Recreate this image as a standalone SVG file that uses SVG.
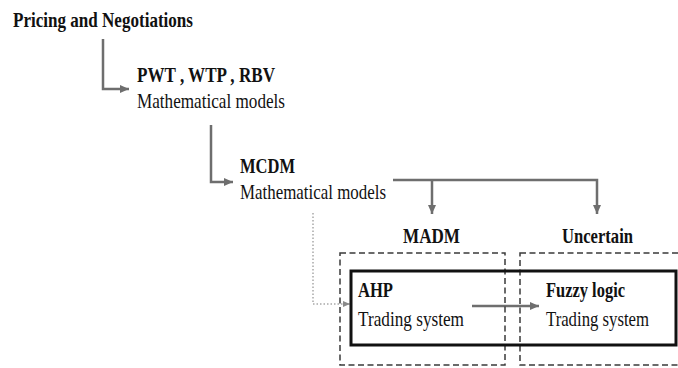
<svg xmlns="http://www.w3.org/2000/svg" width="678" height="368" viewBox="0 0 678 368">
<style>
text{font-family:"Liberation Serif","Times New Roman",serif;fill:#111}
.b{font-weight:bold}
.con{fill:none;stroke:#6e6e6e;stroke-width:2.5}
.dot{fill:none;stroke:#a8a8a8;stroke-width:1.5;stroke-dasharray:1.5 2}
.dash{fill:none;stroke:#3a3a3a;stroke-width:1.5;stroke-dasharray:6 3.5}
</style>
<defs>
<marker id="ah" markerUnits="userSpaceOnUse" markerWidth="10" markerHeight="10" refX="9" refY="5" orient="auto">
<path d="M0,1 L9,5 L0,9 Z" fill="#6e6e6e"/>
</marker>
<marker id="ahs" markerUnits="userSpaceOnUse" markerWidth="8" markerHeight="8" refX="7" refY="4" orient="auto">
<path d="M0,1 L7,4 L0,7 Z" fill="#8a8a8a"/>
</marker>
</defs>
<rect width="678" height="368" fill="#fff"/>
<g id="connectors">
<path class="con" d="M103,39 V89 H129" marker-end="url(#ah)"/>
<path class="con" d="M211,125 V182 H233" marker-end="url(#ah)"/>
<path class="con" d="M393,180 H597 V214" marker-end="url(#ah)"/>
<path class="con" d="M432,180 V214" marker-end="url(#ah)"/>
<path class="dot" d="M313,213 V304 H350" marker-end="url(#ahs)"/>
<path class="con" d="M472,306 H539" marker-end="url(#ah)"/>
</g>
<g id="madm-group">
<rect class="dash" x="340" y="253" width="165" height="112"/>
<text class="b" x="403" y="243" font-size="22" textLength="57" lengthAdjust="spacingAndGlyphs">MADM</text>
</g>
<g id="uncertain-group">
<rect class="dash" x="520" y="253" width="170" height="112"/>
<text class="b" x="562" y="243" font-size="22" textLength="71" lengthAdjust="spacingAndGlyphs">Uncertain</text>
</g>
<g id="trading-box">
<rect x="351" y="271" width="325" height="74" fill="none" stroke="#111" stroke-width="3"/>
</g>
<g id="pricing">
<text class="b" x="13" y="27" font-size="22" textLength="180" lengthAdjust="spacingAndGlyphs">Pricing and Negotiations</text>
</g>
<g id="pwt">
<text class="b" x="137" y="82" font-size="21" textLength="138" lengthAdjust="spacingAndGlyphs">PWT , WTP , RBV</text>
<text x="137" y="108" font-size="21" textLength="148" lengthAdjust="spacingAndGlyphs">Mathematical models</text>
</g>
<g id="mcdm">
<text class="b" x="240" y="173" font-size="21" textLength="55" lengthAdjust="spacingAndGlyphs">MCDM</text>
<text x="240" y="199" font-size="21" textLength="146" lengthAdjust="spacingAndGlyphs">Mathematical models</text>
</g>
<g id="ahp">
<text class="b" x="358" y="297" font-size="21" textLength="35" lengthAdjust="spacingAndGlyphs">AHP</text>
<text x="358" y="326" font-size="21" textLength="106" lengthAdjust="spacingAndGlyphs">Trading system</text>
</g>
<g id="fuzzy">
<text class="b" x="546" y="297" font-size="21" textLength="79" lengthAdjust="spacingAndGlyphs">Fuzzy logic</text>
<text x="546" y="326" font-size="21" textLength="103" lengthAdjust="spacingAndGlyphs">Trading system</text>
</g>
</svg>
